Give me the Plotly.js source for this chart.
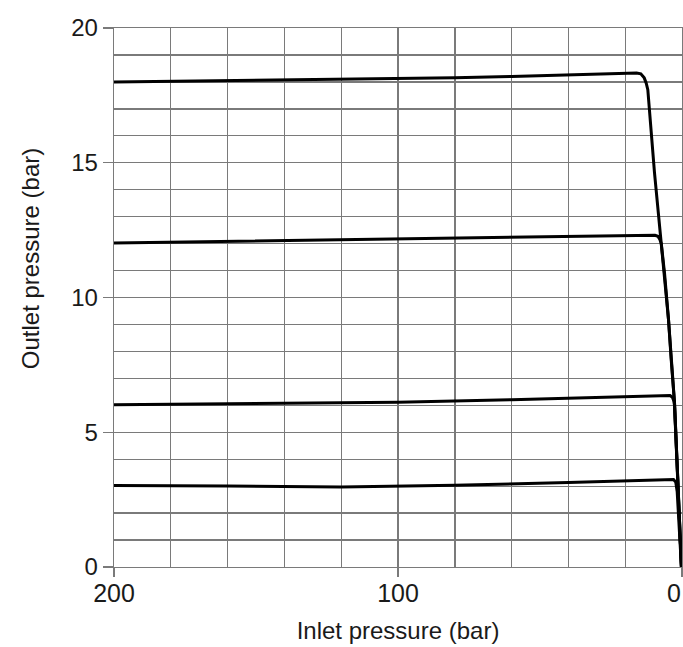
<!DOCTYPE html>
<html>
<head>
<meta charset="utf-8">
<script src="https://cdn.plot.ly/plotly-3.0.1.min.js"></script>
<style>
html, body { margin: 0; padding: 0; background: #ffffff; }
#chart { width: 683px; height: 647px; }
</style>
</head>
<body>
<div id="chart"></div>
<script>
// Inlet pressure (bar) / outlet pressure (bar) for each regulator setting
const inlet18  = [200, 160, 120, 100, 80, 60, 40, 20, 16, 14.5, 13.3, 12.6, 12.04, 9.68, 7.92, 6.16, 4.75, 3.8, 2.64, 1.48, 0.2];
const outlet18 = [18.0, 18.05, 18.1, 18.12, 18.15, 18.2, 18.25, 18.3, 18.33, 18.3, 18.15, 17.95, 17.71, 14.62, 12.76, 10.91, 9.18, 7.69, 6.10, 3.24, 0];

const inlet12  = [200, 160, 140, 100, 60, 20, 9.5, 8.5, 7.8, 7.3, 6.16, 4.75, 3.8, 2.64, 1.48, 0.2];
const outlet12 = [12.02, 12.08, 12.12, 12.19, 12.24, 12.29, 12.31, 12.27, 12.15, 12.0, 10.91, 9.18, 7.69, 6.10, 3.24, 0];

const inlet6  = [200, 160, 100, 60, 20, 6, 4.2, 3.4, 2.9, 2.64, 1.48, 0.2];
const outlet6 = [6.02, 6.06, 6.11, 6.21, 6.31, 6.36, 6.36, 6.3, 6.17, 6.0, 3.24, 0];

const inlet3  = [200, 160, 120, 100, 80, 40, 5, 3.0, 2.2, 1.7, 0.2];
const outlet3 = [3.02, 3.01, 2.97, 2.99, 3.03, 3.14, 3.26, 3.25, 3.15, 2.8, 0];

const xTickVals = [200, 100, 0];
const xTickText = ['200', '100', ''];   // the "0" at the right edge is drawn as an annotation so it stays inside the page
const xEdgeLabel = '0';
const yTickVals = [0, 5, 10, 15, 20];
const yTickText = ['0', '5', '10', '15', '20'];

const series = [
  {x: inlet18, y: outlet18},
  {x: inlet12, y: outlet12},
  {x: inlet6,  y: outlet6},
  {x: inlet3,  y: outlet3}
];

const FONT = 'Liberation Sans, Arial, Helvetica, sans-serif';
const GRID = '#7a7a7a';

const traces = series.map(s => ({
  x: s.x, y: s.y,
  type: 'scatter', mode: 'lines',
  line: {color: '#000000', width: 3},
  hoverinfo: 'skip',
  showlegend: false,
  cliponaxis: false
}));

const layout = {
  width: 683, height: 647,
  margin: {l: 114, r: 1, t: 28, b: 80, pad: 0},
  paper_bgcolor: '#ffffff', plot_bgcolor: '#ffffff',
  font: {family: FONT, color: '#1a1a1a', size: 24},
  showlegend: false,
  xaxis: {
    range: [200, 0], autorange: false,
    tickmode: 'array', tickvals: xTickVals, ticktext: xTickText,
    ticks: 'outside', ticklen: 9, tickwidth: 1.3, tickcolor: GRID,
    ticklabelstandoff: -5,
    tickfont: {family: FONT, size: 25, color: '#1a1a1a'},
    showgrid: true, gridcolor: GRID, gridwidth: 1.3,
    minor: {dtick: 20, tick0: 0, showgrid: true, gridcolor: GRID, gridwidth: 1.3, ticks: ''},
    zeroline: false,
    showline: true, linecolor: GRID, linewidth: 1.3, mirror: true,
    automargin: false,
    title: {text: 'Inlet pressure (bar)', font: {family: FONT, size: 24, color: '#1a1a1a'}, standoff: 16}
  },
  yaxis: {
    range: [0, 20], autorange: false,
    tickmode: 'array', tickvals: yTickVals, ticktext: yTickText,
    ticks: 'outside', ticklen: 10, tickwidth: 1.3, tickcolor: GRID,
    tickfont: {family: FONT, size: 24, color: '#1a1a1a'},
    showgrid: true, gridcolor: GRID, gridwidth: 1.3,
    minor: {dtick: 1, tick0: 0, showgrid: true, gridcolor: GRID, gridwidth: 1.3, ticks: ''},
    zeroline: false,
    showline: true, linecolor: GRID, linewidth: 1.3, mirror: true,
    automargin: false
  },
  shapes: [{
    type: 'line', xref: 'x', yref: 'y', x0: 80, x1: 80, y0: 0, y1: 20,
    line: {color: '#222222', width: 1.6}, layer: 'below'
  }],
  annotations: [{
    text: 'Outlet pressure (bar)', textangle: -90,
    xref: 'paper', yref: 'paper', x: -0.147, y: 0.572,
    xanchor: 'center', yanchor: 'middle', showarrow: false,
    font: {family: FONT, size: 24, color: '#1a1a1a'}
  }, {
    text: xEdgeLabel,
    xref: 'paper', yref: 'paper', x: 1, y: 0,
    xanchor: 'right', yanchor: 'middle', yshift: -26, xshift: 1,
    showarrow: false,
    font: {family: FONT, size: 25, color: '#1a1a1a'}
  }]
};

Plotly.newPlot('chart', traces, layout, {staticPlot: true, displayModeBar: false});
</script>
</body>
</html>
